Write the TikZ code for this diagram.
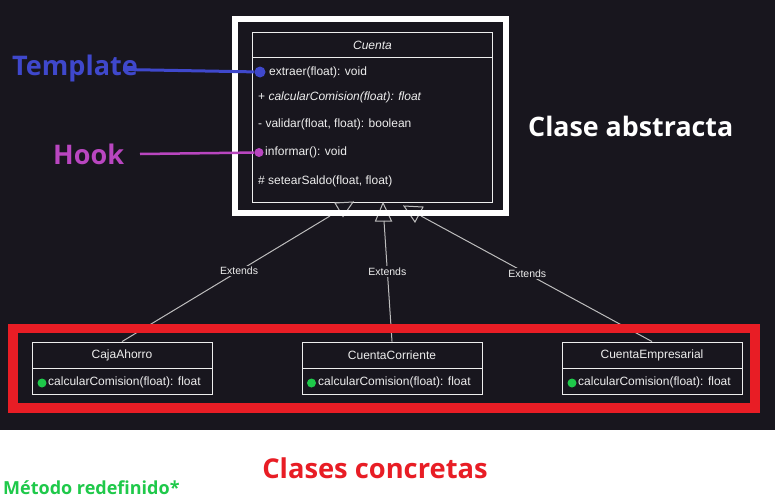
\documentclass[tikz,border=0pt]{standalone}
\usepackage{fontspec}
\setmainfont{Liberation Sans}
\newfontfamily\lblfont{Open Sans}
\usetikzlibrary{positioning}
\definecolor{bg}{HTML}{18161E}
\definecolor{tplblue}{HTML}{3F48CC}
\definecolor{hookmag}{HTML}{B946C0}
\definecolor{concred}{HTML}{E81D25}
\definecolor{redefgreen}{HTML}{1FC94A}
\definecolor{umltext}{HTML}{EEEEEE}
\definecolor{extline}{HTML}{BDBDBD}
\begin{document}
\begin{tikzpicture}[x=1pt,y=-1pt,
  umlfont/.style={font=\fontsize{12}{14}\selectfont, text=umltext},
  member/.style={umlfont, anchor=west, inner sep=0pt},
  classhead/.style={draw=umltext, line width=0.9pt, fill=bg, minimum width=180pt, minimum height=26pt, inner sep=0pt, umlfont},
  classbody/.style={draw=umltext, line width=0.9pt, fill=bg, minimum width=180pt, minimum height=26pt, inner sep=0pt},
  gdot/.style={circle, fill=redefgreen, minimum size=9pt, inner sep=0pt},
  extline/.style={draw=extline, line width=1pt},
  extlabel/.style={font=\fontsize{10.5}{12}\selectfont, text=umltext, fill=bg, inner sep=1.5pt},
  tri/.style={draw=extline, line width=1pt, fill=bg, line join=miter},
  biglabel/.style={font=\lblfont\bfseries\fontsize{27}{30}\selectfont, inner sep=0pt},
]
% canvas
\useasboundingbox (0,0) rectangle (775,503);
\fill[white] (0,0) rectangle (775,503);
\fill[bg] (0,0) rectangle (775,430);

% abstract class Cuenta
\node[draw=umltext, line width=0.9pt, fill=bg, minimum width=240pt, minimum height=170pt, inner sep=0pt] (cuenta) at (372.7,117.3) {};
\draw[umltext, line width=0.9pt] (252.7,57.7) -- (492.7,57.7);
\node[umlfont, inner sep=0pt] (cname) at (372.5,45) {\itshape Cuenta};
\node[member] (m1) at (269,72) {extraer(float): void};
\node[member] (m2) at (258,97.5) {+ \itshape calcularComision(float): float};
\node[member] (m3) at (258,124) {- validar(float, float): boolean};
\node[member] (m4) at (265,152.5) {informar(): void};
\node[member] (m5) at (258,181.5) {\# setearSaldo(float, float)};

% inheritance arrowheads
\draw[tri] (335,203) -- (353,202) -- (343,216.5) -- cycle;
\draw[tri] (383,203) -- (391.5,221) -- (375.5,221) -- cycle;
\draw[tri] (404,206) -- (423,207) -- (415,222) -- cycle;
\coordinate (t1) at (330,216);
\coordinate (t2) at (384,221);
\coordinate (t3) at (421,216);

% concrete classes
\node[classhead] (caja) at (122,355) {CajaAhorro};
\node[classbody] (cajam) at (122,381) {};
\node[classhead] (corr) at (392,355) {CuentaCorriente};
\node[classbody] (corrm) at (392,381) {};
\node[classhead] (emp) at (652,355) {CuentaEmpresarial};
\node[classbody] (empm) at (652,381) {};

\node[gdot] (g1) at (42,383) {};
\node[member] (c1) at (48,382) {calcularComision(float): float};
\node[gdot] (g2) at (311.5,383) {};
\node[member] (c2) at (318,382) {calcularComision(float): float};
\node[gdot] (g3) at (572,383) {};
\node[member] (c3) at (578,382) {calcularComision(float): float};

% extends connectors
\draw[extline] (t1) -- node[extlabel, pos=0.437] (e1) {Extends} (caja.north);
\draw[extline] (t2) -- node[extlabel, pos=0.42] (e2) {Extends} (corr.north);
\draw[extline] (t3) -- node[extlabel, pos=0.46] (e3) {Extends} (emp.north);

% frames
\draw[white, line width=6pt] (235,19) rectangle (506,213);
\draw[concred, line width=9.5pt] (13,328.5) rectangle (755,408);

% template / hook annotations
\node[biglabel, text=tplblue, anchor=west] (tpl) at (12,68) {Template};
\coordinate (tplstart) at (123,69.5);
\node[circle, fill=tplblue, minimum size=11pt, inner sep=0pt] (tdot) at (260,72) {};
\draw[tplblue, line width=3pt] (tplstart) -- (tdot);

\node[biglabel, text=hookmag, anchor=west] (hook) at (53,154) {Hook};
\coordinate (hookstart) at (140,154);
\node[circle, fill=hookmag, minimum size=9pt, inner sep=0pt] (hdot) at (259,152.5) {};
\draw[hookmag, line width=2.5pt] (hookstart) -- (hdot);

\node[biglabel, text=white, font=\lblfont\bfseries\fontsize{26.8}{30}\selectfont, anchor=west] (abs) at (528,126) {Clase abstracta};
\node[biglabel, text=concred, font=\lblfont\bfseries\fontsize{27.3}{31}\selectfont] (conc) at (375,468) {Clases concretas};
\node[biglabel, text=redefgreen, font=\lblfont\bfseries\fontsize{18}{21}\selectfont, anchor=west] (redef) at (3,488) {Método redefinido*};
\end{tikzpicture}
\end{document}
